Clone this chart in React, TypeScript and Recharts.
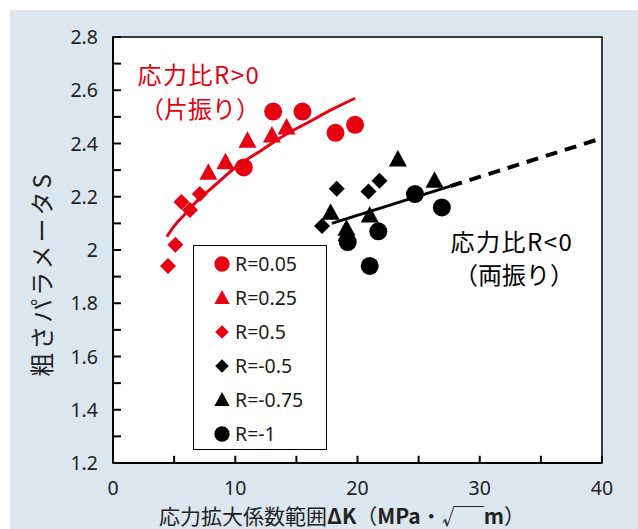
import React from 'react';
import { ScatterChart, Scatter, XAxis, YAxis, ReferenceArea, ReferenceLine, Legend, Customized } from 'recharts';

if (typeof document !== 'undefined') {
  document.body.style.margin = '0';
}

const RED = '#e60012';
const BLACK = '#000000';
const CJK = "'Noto Sans CJK JP', 'Noto Sans', sans-serif";
const NUM = "'Noto Sans', 'Noto Sans CJK JP', sans-serif";

// ΔK (MPa√m) vs roughness parameter S
const r005 = [
  { k: 13.1, s: 2.52 },
  { k: 15.5, s: 2.52 },
  { k: 18.2, s: 2.44 },
  { k: 19.8, s: 2.47 },
  { k: 10.7, s: 2.31 },
];
const r025 = [
  { k: 7.8, s: 2.29 },
  { k: 9.2, s: 2.33 },
  { k: 11.0, s: 2.41 },
  { k: 13.0, s: 2.43 },
  { k: 14.2, s: 2.46 },
];
const r05 = [
  { k: 5.6, s: 2.18 },
  { k: 6.3, s: 2.15 },
  { k: 7.1, s: 2.21 },
  { k: 5.1, s: 2.02 },
  { k: 4.5, s: 1.94 },
];
const rm05 = [
  { k: 18.3, s: 2.23 },
  { k: 20.9, s: 2.22 },
  { k: 21.8, s: 2.26 },
  { k: 17.1, s: 2.09 },
];
const rm075 = [
  { k: 23.3, s: 2.34 },
  { k: 17.8, s: 2.14 },
  { k: 21.0, s: 2.13 },
  { k: 26.3, s: 2.26 },
  { k: 19.1, s: 2.08 },
  { k: 19.1, s: 2.06 },
];
const rm1 = [
  { k: 19.2, s: 2.03 },
  { k: 21.7, s: 2.07 },
  { k: 21.0, s: 1.94 },
  { k: 24.7, s: 2.21 },
  { k: 26.9, s: 2.16 },
];
// trend curves
const redTrend = [
  { k: 4.4, s: 2.05 },
  { k: 5.0, s: 2.09 },
  { k: 6.0, s: 2.14 },
  { k: 7.0, s: 2.19 },
  { k: 8.0, s: 2.23 },
  { k: 9.0, s: 2.27 },
  { k: 10.0, s: 2.31 },
  { k: 12.0, s: 2.37 },
  { k: 14.0, s: 2.43 },
  { k: 16.0, s: 2.48 },
  { k: 18.0, s: 2.53 },
  { k: 19.8, s: 2.57 },
];
const blackTrendSolid = [
  { k: 17.9, s: 2.1 },
  { k: 27.6, s: 2.24 },
];
const blackTrendDashed = [
  { k: 27.6, s: 2.24 },
  { k: 40, s: 2.42 },
];

const xTicks = [0, 5, 10, 15, 20, 25, 30, 35, 40];
const xLabelTicks = [0, 10, 20, 30, 40];
const yTicks = [1.2, 1.3, 1.4, 1.5, 1.6, 1.7, 1.8, 1.9, 2.0, 2.1, 2.2, 2.3, 2.4, 2.5, 2.6, 2.7, 2.8];
const yLabelTicks = [1.2, 1.4, 1.6, 1.8, 2.0, 2.2, 2.4, 2.6, 2.8];

const legendItems = [
  { name: 'R=0.05', color: RED, type: 'circle' },
  { name: 'R=0.25', color: RED, type: 'triangle' },
  { name: 'R=0.5', color: RED, type: 'diamond' },
  { name: 'R=-0.5', color: BLACK, type: 'diamond' },
  { name: 'R=-0.75', color: BLACK, type: 'triangle' },
  { name: 'R=-1', color: BLACK, type: 'circle' },
];

// inward tick lengths expressed in axis units (≈8px and ≈7px)
const X_MIN = 0;
const Y_MIN = 1.2;
const Y_TICK_LEN = 0.65;
const X_TICK_LEN = 0.027;

function Marker({ type, cx, cy, fill, scale = 1 }: any) {
  if (cx == null || cy == null) return null;
  if (type === 'circle') {
    return <circle cx={cx} cy={cy} r={9 * scale} fill={fill} />;
  }
  if (type === 'triangle') {
    const w = 9 * scale;
    const pts = `${cx},${cy - 9.5 * scale} ${cx - w},${cy + 7 * scale} ${cx + w},${cy + 7 * scale}`;
    return <polygon points={pts} fill={fill} />;
  }
  const d = 8 * scale;
  const pts = `${cx},${cy - d} ${cx + d},${cy} ${cx},${cy + d} ${cx - d},${cy}`;
  return <polygon points={pts} fill={fill} />;
}

const shapeOf = (type: string, fill: string) => (p: any) => (
  <Marker type={type} cx={p.cx} cy={p.cy} fill={fill} />
);

const fmt = (v: number) => String(Number(v.toFixed(1)));

// chart frame (must match chart margins + axis sizes)
const W = 638;
const H = 529;
const PLOT_LEFT = 113;
const PLOT_TOP = 37;
const PLOT_RIGHT = 602;
const PLOT_BOTTOM = 463;

function YTick(props: any) {
  const { y, payload } = props;
  const x = PLOT_LEFT;
  const v = Number(Number(payload.value).toFixed(1));
  const show = yLabelTicks.some((t) => Math.abs(t - v) < 1e-6);
  if (!show) return <g />;
  return (
    <text x={x - 15} y={y} dy="0.36em" textAnchor="end" fontSize={19.5} fontFamily={NUM} fill="#222">
      {fmt(v)}
    </text>
  );
}

function XTick(props: any) {
  const { x, payload } = props;
  const y = PLOT_BOTTOM;
  const v = Number(payload.value);
  const show = xLabelTicks.includes(v);
  if (!show) return <g />;
  return (
    <text x={x} y={y + 25} dy="0.36em" textAnchor="middle" fontSize={19.5} fontFamily={NUM} fill="#222">
      {v}
    </text>
  );
}

function LegendBox() {
  return (
    <div
      style={{
        width: 134,
        height: 205,
        border: '1.5px solid #000',
        background: '#fff',
        boxSizing: 'border-box',
        position: 'relative',
        fontFamily: NUM,
        fontSize: 19.5,
        color: '#1a1a1a',
      }}
    >
      {legendItems.map((it, i) => (
        <div
          key={it.name}
          style={{
            position: 'absolute',
            left: 0,
            top: 18 + i * 34 - 12,
            height: 24,
            display: 'flex',
            alignItems: 'center',
            whiteSpace: 'nowrap',
          }}
        >
          <svg width={40} height={24} style={{ display: 'block' }}>
            <Marker type={it.type} cx={28} cy={12} fill={it.color} scale={0.85} />
          </svg>
          <span style={{ marginLeft: 1, lineHeight: '24px' }}>{it.name}</span>
        </div>
      ))}
    </div>
  );
}

function Annotations() {
  return (
    <g>
      <text x={199} y={75} dy="0.36em" textAnchor="middle" fontSize={24} letterSpacing={1.5} fontFamily={CJK} fill={RED}>
        応力比R&gt;0
      </text>
      <text x={200} y={109} dy="0.36em" textAnchor="middle" fontSize={24} fontFamily={CJK} fill={RED}>
        （片振り）
      </text>
      <text x={512} y={242} dy="0.36em" textAnchor="middle" fontSize={24} letterSpacing={1.5} fontFamily={CJK} fill="#000">
        応力比R&lt;0
      </text>
      <text x={514} y={275} dy="0.36em" textAnchor="middle" fontSize={24} fontFamily={CJK} fill="#000">
        （両振り）
      </text>
      <text
        transform="translate(42,274) rotate(-90)"
        textAnchor="middle"
        dy="0.36em"
        fontSize={24}
        letterSpacing={3}
        fontFamily={CJK}
        fill="#222"
      >
        粗さパラメータS
      </text>
      <text x={342} y={516} dy="0.36em" textAnchor="middle" fontSize={21} fontFamily={CJK} fill="#222">
        <tspan>応力拡大係数範囲</tspan>
        <tspan fontWeight="bold">ΔK</tspan>
        <tspan>（</tspan>
        <tspan fontWeight="bold">MPa</tspan>
        <tspan>・√￣</tspan>
        <tspan fontWeight="bold">m</tspan>
        <tspan>）</tspan>
      </text>
    </g>
  );
}

export default function App() {
  return (
    <div style={{ position: 'relative', width: W, height: H, background: '#fff', overflow: 'hidden' }}>
      <div style={{ position: 'absolute', left: 10, top: 10, right: 0, bottom: 0, background: '#dce6ee' }} />
      <div
        style={{
          position: 'absolute',
          left: PLOT_LEFT,
          top: PLOT_TOP,
          width: PLOT_RIGHT - PLOT_LEFT,
          height: PLOT_BOTTOM - PLOT_TOP,
          background: '#fff',
        }}
      />
      <div style={{ position: 'absolute', left: 0, top: 0 }}>
        <ScatterChart width={W} height={H} margin={{ top: 37, right: 36, bottom: 26, left: 53 }}>
          <ReferenceArea
            x1={0}
            x2={40}
            y1={1.2}
            y2={2.8}
            fill="none"
            fillOpacity={0}
            stroke="#000"
            strokeWidth={1.5}
            ifOverflow="visible"
          />
          {yTicks.map((v) => (
            <ReferenceLine
              key={`yt${v}`}
              segment={[
                { x: X_MIN, y: v },
                { x: X_MIN + Y_TICK_LEN, y: v },
              ]}
              stroke="#000"
              strokeWidth={2}
              ifOverflow="visible"
            />
          ))}
          {xTicks.map((v) => (
            <ReferenceLine
              key={`xt${v}`}
              segment={[
                { x: v, y: Y_MIN },
                { x: v, y: Y_MIN + X_TICK_LEN },
              ]}
              stroke="#000"
              strokeWidth={2}
              ifOverflow="visible"
            />
          ))}
          <XAxis
            type="number"
            dataKey="k"
            domain={[0, 40]}
            ticks={xTicks}
            interval={0}
            height={40}
            tickLine={false}
            tick={<XTick />}
            axisLine={{ stroke: '#000', strokeWidth: 2 }}
            allowDataOverflow
          />
          <YAxis
            type="number"
            dataKey="s"
            domain={[1.2, 2.8]}
            ticks={yTicks}
            interval={0}
            width={60}
            tickLine={false}
            tick={<YTick />}
            axisLine={{ stroke: '#000', strokeWidth: 2 }}
            allowDataOverflow
          />
          <Scatter
            name="redTrend"
            data={redTrend}
            line={{ stroke: RED, strokeWidth: 3 }}
            lineJointType="monotoneX"
            shape={() => <g />}
            legendType="none"
            isAnimationActive={false}
          />
          <Scatter
            name="blackSolid"
            data={blackTrendSolid}
            line={{ stroke: BLACK, strokeWidth: 3 }}
            shape={() => <g />}
            legendType="none"
            isAnimationActive={false}
          />
          <Scatter
            name="blackDashed"
            data={blackTrendDashed}
            line={{ stroke: BLACK, strokeWidth: 4, strokeDasharray: '12 8' }}
            shape={() => <g />}
            legendType="none"
            isAnimationActive={false}
          />
          <Scatter name="R=0.05" data={r005} fill={RED} shape={shapeOf('circle', RED)} isAnimationActive={false} />
          <Scatter name="R=0.25" data={r025} fill={RED} shape={shapeOf('triangle', RED)} isAnimationActive={false} />
          <Scatter name="R=0.5" data={r05} fill={RED} shape={shapeOf('diamond', RED)} isAnimationActive={false} />
          <Scatter name="R=-0.5" data={rm05} fill={BLACK} shape={shapeOf('diamond', BLACK)} isAnimationActive={false} />
          <Scatter name="R=-0.75" data={rm075} fill={BLACK} shape={shapeOf('triangle', BLACK)} isAnimationActive={false} />
          <Scatter name="R=-1" data={rm1} fill={BLACK} shape={shapeOf('circle', BLACK)} isAnimationActive={false} />
          <Legend
            layout="vertical"
            align="center"
            verticalAlign="middle"
            content={() => <LegendBox />}
            wrapperStyle={{ left: 193, top: 245, width: 134, height: 205, right: 'auto', bottom: 'auto' }}
          />
          <Customized component={Annotations} />
        </ScatterChart>
      </div>
    </div>
  );
}
